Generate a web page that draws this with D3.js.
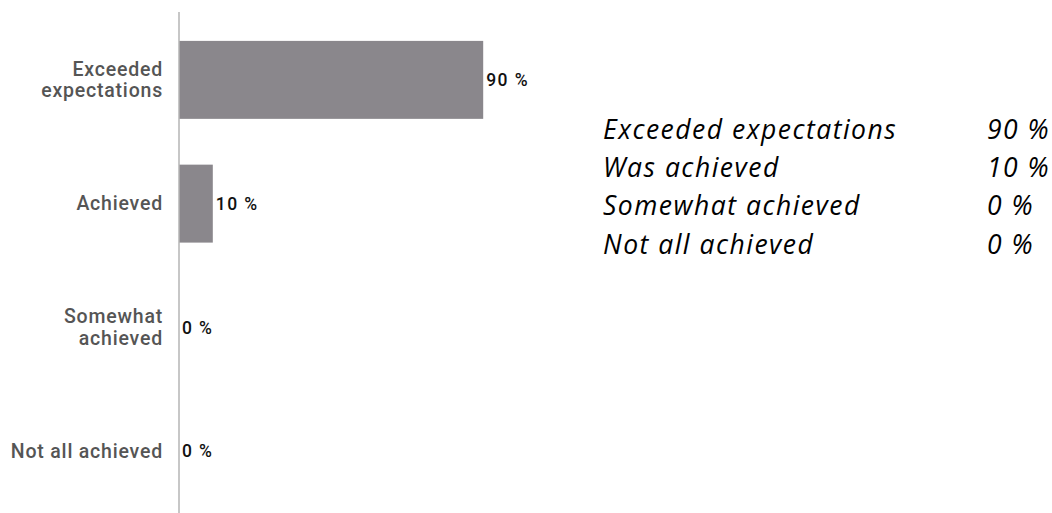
<!DOCTYPE html>
<html>
<head>
<meta charset="utf-8">
<script src="https://cdn.jsdelivr.net/npm/d3@7"></script>
<style>
  html, body { margin: 0; padding: 0; background: #fff; }
  svg { display: block; }
</style>
</head>
<body>
<svg id="chart" width="1052" height="513"></svg>
<script>
// Survey outcome: share of responses per category
const categories = [["Exceeded", "expectations"], ["Achieved"], ["Somewhat", "achieved"], ["Not all achieved"]];
const values = [90, 10, 0, 0];
const summaryLabels = ["Exceeded expectations", "Was achieved", "Somewhat achieved", "Not all achieved"];
const summaryValues = [90, 10, 0, 0];

const svg = d3.select("#chart");
const keys = categories.map((c, i) => i);

const x = d3.scaleLinear().domain([0, 100]).range([179, 517]);
const y = d3.scaleBand().domain(keys).range([18, 513]).paddingInner(0.37).paddingOuter(0.185);

// bars
svg.append("g").selectAll("rect")
  .data(values)
  .join("rect")
  .attr("x", x(0))
  .attr("y", (d, i) => y(i))
  .attr("width", d => x(d) - x(0))
  .attr("height", y.bandwidth())
  .attr("fill", "#8a878c");

// vertical axis line
svg.append("line")
  .attr("x1", x(0)).attr("x2", x(0))
  .attr("y1", 12).attr("y2", 513)
  .attr("stroke", "#b5b5b5").attr("stroke-width", 1.5);

// category labels
const catG = svg.append("g")
  .attr("font-family", "Roboto, sans-serif")
  .attr("font-weight", 500)
  .attr("font-size", 19.5)
  .attr("letter-spacing", 0.8)
  .attr("fill", "#555")
  .attr("text-anchor", "end");
categories.forEach((lines, i) => {
  const cy = y(i) + y.bandwidth() / 2;
  const lh = 21.5;
  const t = catG.append("text").attr("x", 163);
  lines.forEach((ln, j) => {
    t.append("tspan")
      .attr("x", 163)
      .attr("y", cy + (j - (lines.length - 1) / 2) * lh)
      .attr("dy", "0.35em")
      .text(ln);
  });
});

// value labels
svg.append("g").selectAll("text")
  .data(values)
  .join("text")
  .attr("x", d => x(d) + 3)
  .attr("y", (d, i) => y(i) + y.bandwidth() / 2)
  .attr("dy", "0.35em")
  .attr("font-family", "Roboto, sans-serif")
  .attr("font-weight", 500)
  .attr("font-size", 17.5)
  .attr("letter-spacing", 1.4)
  .attr("fill", "#111")
  .text(d => d + " %");

// summary table on the right
const rowY = d3.scalePoint().domain(d3.range(summaryLabels.length)).range([138.5, 253.5]);
const sumG = svg.append("g")
  .attr("font-family", "'Open Sans', sans-serif")
  .attr("font-style", "italic")
  .attr("font-size", 26.5)
  .attr("letter-spacing", 1.5)
  .attr("fill", "#000");
sumG.selectAll("text.lbl")
  .data(summaryLabels)
  .join("text")
  .attr("class", "lbl")
  .attr("x", 603)
  .attr("y", (d, i) => rowY(i))
  .text(d => d);
sumG.selectAll("text.val")
  .data(summaryValues)
  .join("text")
  .attr("class", "val")
  .attr("x", 987)
  .attr("y", (d, i) => rowY(i))
  .text(d => d + " %");
</script>
</body>
</html>
